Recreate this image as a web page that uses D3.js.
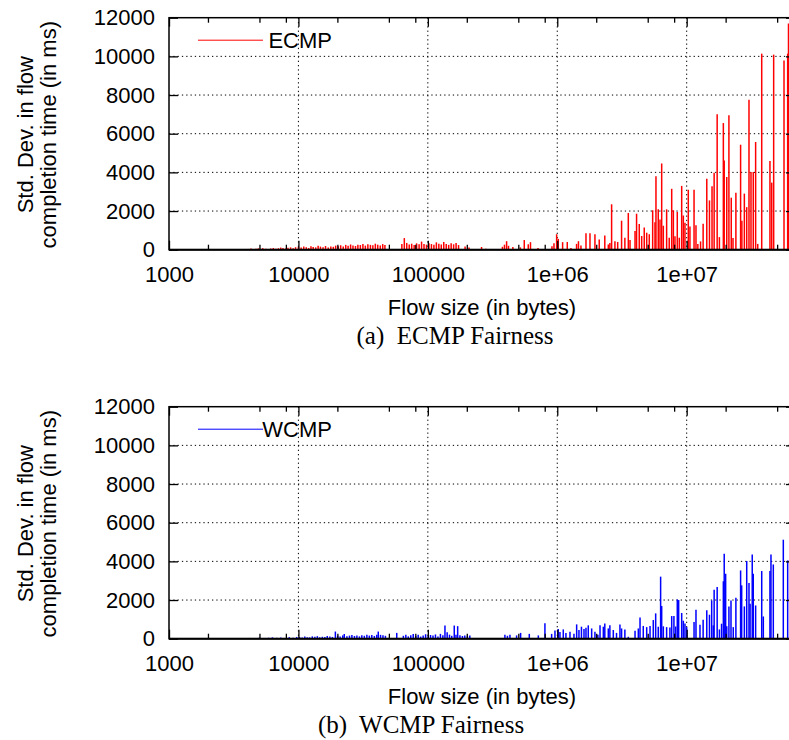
<!DOCTYPE html>
<html>
<head>
<meta charset="utf-8">
<script src="https://cdn.jsdelivr.net/npm/d3@7"></script>
<style>
  html, body { margin: 0; padding: 0; background: #fff; }
  svg { display: block; }
  text { font-family: "Liberation Sans", Arial, Helvetica, sans-serif; fill: #000; }
  .cap { font-family: "Liberation Serif", "Times New Roman", serif; white-space: pre; }
</style>
</head>
<body>
<svg id="fig" width="789" height="740"></svg>
<script>
// Axis ticks
const yTicks = [0, 2000, 4000, 6000, 8000, 10000, 12000];
const xTicks = [1e3, 1e4, 1e5, 1e6, 1e7];
const xTickLabels = ["1000", "10000", "100000", "1e+06", "1e+07"];
const xMinorMantissas = [2, 5, 8];

// ECMP: flow size (bytes) and std. dev. of completion time (ms)
const ecmpSize = [
  4100,4300,4500,4700,4900,5100,5300,5600,5800,6100,6400,6700,7000,7300,7600,8000,8300,8700,9100,9500,
  10000,10500,11000,11500,12000,12500,13000,13600,14200,14800,15500,16200,17000,17800,18600,19400,
  20300,21200,22200,23200,24200,25300,26400,27600,28800,30100,31500,32900,34400,36000,37600,39300,41000,42900,44800,46600,
  63000,65800,68700,71800,75000,78400,81900,85600,89400,93400,97600,102000,106600,111400,116400,121600,127000,132700,138700,144900,151400,158200,165300,172700,
  194000,208000,260000,281000,377000,391000,406000,420000,454000,519000,556000,597000,621000,710000,910000,943000,989000,
  1018000,1100000,1195000,1276000,1410000,1458000,1524000,1667000,1790000,1955000,2110000,2330000,2480000,2550000,2630000,
  2790000,2930000,3140000,3330000,3540000,3650000,3990000,4100000,4300000,4490000,4700000,4910000,5140000,5460000,5690000,
  5790000,6030000,6220000,6410000,6600000,7000000,7330000,7660000,7890000,8120000,8460000,8770000,9150000,9420000,9700000,
  10290000,10600000,11400000,11800000,12200000,12800000,13400000,14300000,15000000,15700000,16300000,17200000,
  17900000,19200000,19500000,20400000,21200000,22100000,22800000,24000000,26100000,26700000,27900000,29100000,
  30300000,31400000,32700000,34100000,35400000,38000000,44000000,45400000,47000000,56500000,60300000,61200000
];
const ecmpStd = [
  40,60,30,50,70,45,80,55,40,65,90,50,75,110,85,60,95,120,80,130,
  150,110,170,130,90,180,140,120,200,160,130,190,110,170,150,210,
  180,230,160,250,200,270,220,190,260,240,300,210,280,250,230,310,260,220,290,240,
  290,600,350,270,310,240,330,280,420,300,260,340,290,250,380,310,270,400,300,250,330,280,350,240,
  170,120,140,50,150,260,440,200,140,120,500,280,390,90,180,330,800,
  560,390,400,90,300,440,220,850,850,800,530,740,270,350,2350,
  440,400,1500,620,1900,500,970,1860,1330,710,1150,880,800,2040,1420,
  3800,2090,1560,4460,1240,2090,620,3150,2040,700,1950,620,3300,1770,1400,
  3100,1200,3100,1260,300,430,1340,3670,2550,3280,3980,7000,
  650,6550,4620,3760,6950,2690,600,2950,5430,1500,2900,2200,
  7760,4020,4020,5570,300,10140,4590,3470,10090,9790,10140,11700
];

// WCMP: flow size (bytes) and std. dev. of completion time (ms)
const wcmpSize = [
  4200,4600,5000,5400,5900,6300,6800,7300,7900,8500,9100,9700,
  10200,10700,11200,11700,12200,12800,13400,14000,14600,15300,16000,16700,17500,18300,19300,
  20100,21000,22000,22600,23700,24800,25900,27100,28300,29600,30900,32300,33800,35300,36900,38600,40300,41400,43100,45000,47000,
  57500,
  64700,67600,70600,73800,77100,80600,84200,88000,92000,96100,100400,104900,109600,114500,119700,125100,130700,
  135600,141000,147000,153000,160000,165000,170000,177000,185000,193000,202000,211000,
  394000,412000,431000,485000,521000,608000,714000,803000,905000,960000,
  1018000,1049000,1113000,1167000,1254000,1346000,1412000,1471000,1538000,1609000,1667000,1736000,1844000,1955000,2060000,2140000,
  2270000,2330000,2480000,2550000,2710000,2870000,3050000,3140000,3330000,3540000,3990000,4230000,4360000,4620000,4910000,5210000,
  5520000,5760000,6030000,6290000,6410000,6600000,7000000,7420000,7660000,7970000,8220000,8460000,8670000,9150000,9420000,9700000,
  10000000,11400000,11800000,12670000,13400000,14300000,15000000,15600000,16050000,16300000,17200000,17900000,18600000,
  19200000,19500000,20000000,20400000,21200000,22000000,22900000,24000000,26100000,26600000,27900000,29100000,30300000,
  30900000,32100000,32700000,34100000,38000000,39100000,44000000,44800000,46700000,55800000,60300000
];
const wcmpStd = [
  40,30,60,35,50,70,45,60,40,80,55,90,
  90,60,110,80,70,120,95,130,75,100,85,140,110,90,370,
  150,120,170,240,130,160,190,140,170,120,180,150,200,160,190,140,210,370,200,180,150,
  300,
  150,210,120,180,240,140,200,110,170,230,130,190,160,220,120,250,180,
  680,340,210,150,680,200,650,180,140,170,120,160,
  200,150,210,170,300,250,170,800,250,420,
  500,350,480,300,360,250,740,450,620,500,560,690,530,360,200,700,
  620,790,530,700,450,300,740,530,480,100,410,530,1100,660,600,660,
  965,1310,620,3210,1690,640,600,580,1170,1170,630,2030,2000,1330,930,790,
  600,860,1500,720,980,1470,1240,1980,690,2530,2670,480,775,
  2970,4400,3360,640,1670,1980,600,2120,3530,2760,1670,4020,2880,
  1810,4360,3360,1720,3500,1150,3500,4360,3840,5120,4050
];

const panels = [
  { top: 17.7, name: "ECMP", color: "#ff0000", sizes: ecmpSize, values: ecmpStd, caption: "(a)  ECMP Fairness", capX: 455 },
  { top: 406.7, name: "WCMP", color: "#0000ff", sizes: wcmpSize, values: wcmpStd, caption: "(b)  WCMP Fairness", capX: 421 }
];

const left = 169, right = 795, plotH = 232;
const svg = d3.select("#fig");

const x = d3.scaleLog().domain([1000, 6.87e7]).range([left, right]);
const y = d3.scaleLinear().domain([0, 12000]).range([plotH, 0]);

const minorTicks = [];
for (let e = 3; e <= 7; e++) xMinorMantissas.forEach(m => {
  const v = m * Math.pow(10, e);
  if (v < x.domain()[1]) minorTicks.push(v);
});

const FONT = 22;

const styleAxis = sel => {
  sel.select(".domain").remove();
  sel.selectAll(".tick line").attr("stroke", "#000").attr("stroke-width", 1.3);
  sel.selectAll("text").attr("font-size", FONT)
    .attr("font-family", '"Liberation Sans", Arial, Helvetica, sans-serif').attr("fill", "#000");
};

panels.forEach(p => {
  const g = svg.append("g").attr("transform", `translate(0,${p.top})`);

  // dotted grid
  const grid = g.append("g").attr("stroke", "#000").attr("stroke-width", 1)
    .attr("stroke-dasharray", "1.3,3");
  grid.selectAll("line.h").data(yTicks.filter(v => v > 0 && v < 12000)).join("line")
    .attr("x1", left).attr("x2", right).attr("y1", d => y(d)).attr("y2", d => y(d));
  grid.selectAll("line.v").data(xTicks.filter(v => v > 1000)).join("line")
    .attr("x1", d => x(d)).attr("x2", d => x(d)).attr("y1", 0).attr("y2", plotH);

  // impulses
  g.append("g").attr("stroke", p.color).attr("stroke-width", 1.5)
    .selectAll("line").data(d3.zip(p.sizes, p.values)).join("line")
    .attr("x1", d => x(d[0])).attr("x2", d => x(d[0]))
    .attr("y1", y(0)).attr("y2", d => y(d[1]));

  // axes (inward ticks)
  g.append("g").attr("transform", `translate(0,${plotH})`)
    .call(d3.axisBottom(x).tickValues(xTicks).tickFormat((d, i) => xTickLabels[i]).tickSize(-9).tickPadding(17))
    .call(styleAxis);
  g.append("g").attr("transform", `translate(0,${plotH})`)
    .call(d3.axisBottom(x).tickValues(minorTicks).tickFormat("").tickSize(-5)).call(styleAxis);
  g.append("g")
    .call(d3.axisTop(x).tickValues(xTicks).tickFormat("").tickSize(-9)).call(styleAxis);
  g.append("g")
    .call(d3.axisTop(x).tickValues(minorTicks).tickFormat("").tickSize(-5)).call(styleAxis);
  g.append("g").attr("transform", `translate(${left},0)`)
    .call(d3.axisLeft(y).tickValues(yTicks).tickFormat(d3.format("d")).tickSize(-9).tickPadding(14))
    .call(styleAxis);
  g.append("g").attr("transform", `translate(${right},0)`)
    .call(d3.axisRight(y).tickValues(yTicks).tickFormat("").tickSize(-9)).call(styleAxis);

  // frame
  g.append("rect").attr("x", left).attr("y", 0).attr("width", right - left).attr("height", plotH)
    .attr("fill", "none").attr("stroke", "#000").attr("stroke-width", 1.5);
  g.append("line").attr("x1", left).attr("x2", right).attr("y1", plotH).attr("y2", plotH)
    .attr("stroke", "#000").attr("stroke-width", 2);

  // legend
  g.append("line").attr("x1", 198).attr("x2", 263).attr("y1", 22.5).attr("y2", 22.5)
    .attr("stroke", p.color).attr("stroke-width", 1);
  g.append("text").attr("x", 332).attr("y", 30.5).attr("text-anchor", "end")
    .attr("font-size", FONT).text(p.name);

  // axis titles
  const yl = g.append("text").attr("transform", `translate(0,${plotH / 2 + 1}) rotate(-90)`)
    .attr("text-anchor", "middle").attr("font-size", FONT);
  yl.append("tspan").attr("x", 0).attr("y", 33).text("Std. Dev. in flow");
  yl.append("tspan").attr("x", 0).attr("y", 56).text("completion time (in ms)");
  g.append("text").attr("x", (left + right) / 2).attr("y", plotH + 65)
    .attr("text-anchor", "middle").attr("font-size", FONT).text("Flow size (in bytes)");

  // caption
  g.append("text").attr("class", "cap").attr("x", p.capX).attr("y", plotH + 94)
    .attr("text-anchor", "middle").attr("font-size", 25).text(p.caption);
});
</script>
</body>
</html>
